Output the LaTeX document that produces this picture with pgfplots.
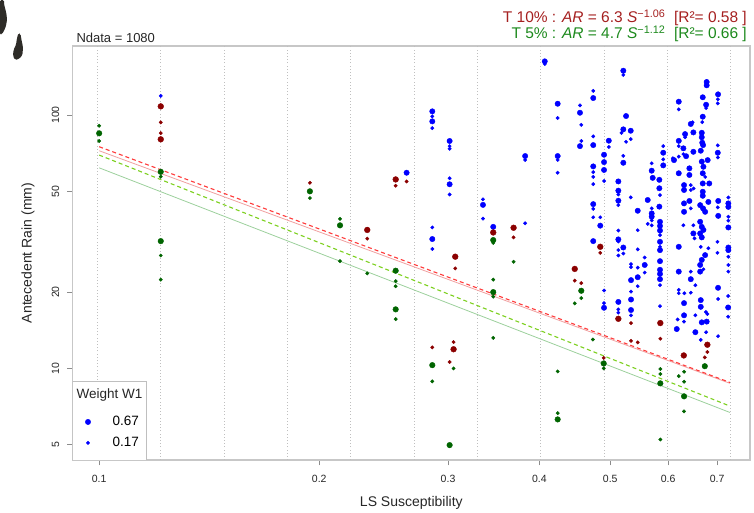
\documentclass[border=0pt]{standalone}
\usepackage{fontspec}
\setmainfont{Liberation Sans}
\usepackage{pgfplots}
\pgfplotsset{compat=1.18}
\definecolor{blu}{HTML}{0000FF}
\definecolor{dred}{HTML}{8B0000}
\definecolor{dgreen}{HTML}{006400}
\definecolor{hdrred}{HTML}{A52020}
\definecolor{hdrgreen}{HTML}{1E8A1E}
\definecolor{lnred}{HTML}{FF3A3A}
\definecolor{lnpink}{HTML}{F0A0A0}
\definecolor{lnyg}{HTML}{7CD01E}
\definecolor{lnlg}{HTML}{9CD09C}
\definecolor{blob}{HTML}{2E2C28}
\begin{document}
\begin{tikzpicture}
\useasboundingbox (0pt,0pt) rectangle (754pt,513pt);
\fill[blob,rounded corners=1.5pt] (0pt,513pt) -- (4pt,513pt) -- (4pt,509pt) -- (5pt,505pt) -- (6.5pt,499pt) -- (7pt,493pt) -- (6pt,487pt) -- (4pt,482pt) -- (2pt,479pt) -- (0pt,478pt) -- cycle;
\fill[blob,rounded corners=1.5pt] (18.5pt,480pt) -- (20.5pt,479pt) -- (21.5pt,473pt) -- (23pt,466pt) -- (22.5pt,458pt) -- (19pt,454pt) -- (15pt,453pt) -- (13pt,457pt) -- (13.5pt,463pt) -- (16pt,468pt) -- (17pt,475pt) -- cycle;
\begin{axis}[
  at={(72.7pt,53pt)}, anchor=south west,
  scale only axis, width=677.3pt, height=414pt,
  xmode=log, ymode=log,
  xmin=0.0920, xmax=0.7765, ymin=4.35, ymax=187.3,
  axis line style={draw=black!22, line width=1.3pt},
  tick pos=left, tick align=outside, major tick length=5.5pt,
  every tick/.style={black!45, line width=0.6pt},
  xtick={0.1,0.2,0.3,0.4,0.5,0.6,0.7},
  xticklabels={0.1,0.2,0.3,0.4,0.5,0.6,0.7},
  ytick={5,10,20,50,100},
  yticklabels={5,10,20,50,100},
  minor xtick={}, minor ytick={},
  extra x ticks={0.09949,0.1214,0.1483,0.1810,0.2209,0.2697,0.3292,0.4018,0.4905,0.5988,0.7308},
  extra x tick labels={},
  extra x tick style={grid=major, major tick length=0pt},
  major grid style={black!25, line width=0.7pt, dash pattern=on 0.8pt off 2.4pt},
  ticklabel style={font=\fontsize{10.5}{12}\selectfont, text=black!85},
  xticklabel shift=6pt,
  yticklabel style={rotate=90, anchor=south},
  yticklabel shift=4.5pt,
  xlabel={LS Susceptibility},
  ylabel={Antecedent Rain (mm)},
  label style={font=\fontsize{14}{16}\selectfont, text=black!85},
  x label style={at={(axis description cs:0.5,-0.104)}, anchor=center},
  y label style={at={(axis description cs:-0.066,0.5)}, anchor=center},
  legend style={at={(0.0139,0.018)}, anchor=south west, draw=none, fill=none,
    font=\fontsize{13.5}{15}\selectfont, row sep=6pt},
  legend cell align=left,
]
\addlegendimage{only marks, mark=*, mark size=2.7pt, color=blu}
\addlegendentry{\hspace{20pt}0.67}
\addlegendimage{only marks, mark=*, mark size=1.7pt, color=blu}
\addlegendentry{\hspace{20pt}0.17}

% blue large
\addplot[forget plot, only marks, mark=*, mark size=2.7pt, color=blu] coordinates {
(0.2633,59.2) (0.2855,103.4) (0.2855,94.4) (0.2855,32.4) (0.3015,79.0) (0.3015,53.3)
(0.3349,44.2) (0.3459,36.2) (0.3825,68.9) (0.4068,162.9) (0.4237,110.8) (0.4237,68.9)
(0.4545,102.1) (0.4545,75.4) (0.4739,116.7) (0.4739,76.1) (0.4739,62.7) (0.4739,44.5)
(0.4739,31.8) (0.4845,36.6) (0.4903,69.7) (0.4903,65.2) (0.4903,60.7) (0.4903,17.35)
(0.4977,79.2) (0.5129,54.7) (0.5129,50.3) (0.5129,45.9) (0.5129,32.3) (0.5129,18.3)
(0.5210,149.6) (0.5255,99.1) (0.5210,87.8) (0.5333,86.7) (0.5210,64.8) (0.5338,18.7)
(0.5338,17.0) (0.5338,22.3) (0.5452,41.9) (0.5452,22.9) (0.5573,25.6) (0.5626,46.2)
(0.5697,60.3) (0.5715,56.5) (0.5697,40.9) (0.5697,39.7) (0.5836,55.5) (0.5836,51.4)
(0.5836,43.5) (0.5848,37.9) (0.5848,36.5) (0.5848,31.6) (0.5848,35.0) (0.5848,26.5)
(0.5848,24.5) (0.5848,23.6) (0.5848,22.5) (0.5848,29.3) (0.5908,71.0) (0.5908,63.3)
(0.6112,66.4) (0.6204,112.9) (0.6204,79.1) (0.6204,58.9) (0.6204,30.2) (0.6204,24.1)
(0.6295,73.9) (0.6329,84.1) (0.6349,68.8) (0.6308,52.9) (0.6308,50.6) (0.6308,41.5)
(0.6308,44.8) (0.6308,18.1) (0.6308,16.2) (0.6165,14.3) (0.6443,92.2) (0.6496,85.4)
(0.6496,71.6) (0.6415,61.6) (0.6415,58.0) (0.6415,45.8) (0.6496,34.1) (0.6443,22.5)
(0.6537,13.9) (0.6649,72.3) (0.6691,117.5) (0.6691,98.5) (0.6670,85.1) (0.6670,81.7)
(0.6680,77.8) (0.6698,76.1) (0.6670,65.5) (0.6705,62.5) (0.6691,58.9) (0.6691,53.7)
(0.6691,49.8) (0.6691,48.0) (0.6636,44.1) (0.6698,42.8) (0.6741,41.5) (0.6810,45.4)
(0.6830,53.7) (0.6636,37.9) (0.6670,36.2) (0.6705,35.2) (0.6636,34.1) (0.6670,32.9)
(0.6741,28.0) (0.6670,26.8) (0.6636,25.6) (0.6636,24.1) (0.6774,135.0) (0.6774,131.0)
(0.6762,109.8) (0.6796,66.4) (0.6649,18.6) (0.6649,17.5) (0.6670,15.2) (0.6774,15.3)
(0.7022,120.7) (0.7015,71.0) (0.7025,45.8) (0.7025,40.0) (0.7022,20.8) (0.7253,44.8)
(0.7253,43.4) (0.7253,36.0) (0.7253,30.0) (0.7253,29.3) (0.7248,17.4) (0.5210,30.0)
};
% blue small
\addplot[forget plot, only marks, mark=*, mark size=1.7pt, color=blu] coordinates {
(0.1214,119) (0.2855,98.8) (0.2855,88.8) (0.2855,36.0) (0.2855,29.6) (0.3015,75.4)
(0.3015,73.6) (0.3015,56.3) (0.3015,48.6) (0.3349,46.5) (0.3349,39.0) (0.3825,37.4)
(0.3825,66.5) (0.4068,159) (0.4237,97.3) (0.4237,59.2) (0.4237,66.5) (0.4545,109.2)
(0.4564,91.5) (0.4564,79.0) (0.4739,124.5) (0.4739,82.4) (0.4739,59.5) (0.4739,57.0)
(0.4739,53.4) (0.4739,42.6) (0.4739,39.5) (0.4845,39.5) (0.4903,54.9) (0.4903,20.3)
(0.4903,18.1) (0.4977,74.8) (0.5129,48.6) (0.5129,44.1) (0.5129,35.0) (0.5129,31.7)
(0.5129,29.3) (0.5129,27.9) (0.5129,17.1) (0.5129,16.6) (0.5210,144) (0.5210,28.4)
(0.5180,85.0) (0.5255,78.4) (0.5333,80.3) (0.5210,69.0) (0.5333,47.3) (0.5452,35.1)
(0.5338,25.8) (0.5338,25.1) (0.5452,25.0) (0.5452,29.5) (0.5452,21.1) (0.5338,20.1)
(0.5338,16.2) (0.5573,27.4) (0.5573,23.9) (0.5626,37.2) (0.5697,64.5) (0.5697,42.8)
(0.5697,38.4) (0.5697,36.7) (0.5848,48.3) (0.5848,30.2) (0.5848,35.2) (0.5848,33.6)
(0.5848,21.3) (0.5848,17.6) (0.5908,75.4) (0.5908,66.8) (0.6090,67.5) (0.6204,105.3)
(0.6204,75.4) (0.6204,68.5) (0.6295,44.6) (0.6295,36.7) (0.6443,52.9) (0.6443,50.6)
(0.6500,51.3) (0.6443,42.8) (0.6496,36.7) (0.6520,32.6) (0.6443,24.1) (0.6329,81.7)
(0.6295,70.1) (0.6480,93.6) (0.6680,93.8) (0.6762,106.5) (0.6741,57.0) (0.6810,29.8)
(0.6649,30.2) (0.6705,24.6) (0.7015,115.4) (0.7015,111.2) (0.7015,75.9) (0.7015,68.0)
(0.7015,43.2) (0.7008,31.6) (0.7008,28.6) (0.7022,18.8) (0.7022,13.4) (0.7253,47.3)
(0.7253,39.7) (0.7253,38.3) (0.7253,27.6) (0.7253,25.6) (0.7253,24.1) (0.7248,19.3)
(0.7248,16.0) (0.6537,21.3) (0.6537,16.2) (0.6443,19.9) (0.6316,19.8) (0.6204,20.4)
(0.6204,19.8) (0.6183,15.6) (0.6308,15.3) (0.6762,13.9) (0.6757,16.7) (0.6790,16.4)
(0.6649,12.95) (0.6774,136)
};
% dark red large
\addplot[forget plot, only marks, mark=*, mark size=2.9pt, color=dred] coordinates {
(0.1214,108.2) (0.1214,80.2) (0.2326,35.2) (0.2544,55.7) (0.3069,27.6) (0.3053,11.9)
(0.3459,34.4) (0.3688,35.9) (0.4471,24.7) (0.4845,30.2) (0.5129,15.7) (0.5854,15.1)
(0.6303,11.25) (0.6789,12.4)
};
% dark red small
\addplot[forget plot, only marks, mark=*, mark size=1.7pt, color=dred] coordinates {
(0.1214,93.6) (0.1214,84.9) (0.1942,54.0) (0.2326,32.5) (0.2544,52.6) (0.2633,54.7)
(0.2855,12.1) (0.3069,24.8) (0.3053,12.7) (0.3015,10.6) (0.3688,32.9) (0.4471,22.2)
(0.4564,21.7) (0.4845,28.6) (0.4898,11.0) (0.5338,15.1) (0.5338,12.85) (0.5452,12.66)
(0.5854,13.1) (0.6789,11.6) (0.6734,11.05)
};
% dark green large
\addplot[forget plot, only marks, mark=*, mark size=2.8pt, color=dgreen] coordinates {
(0.1,84.7) (0.1214,59.7) (0.1214,31.8) (0.1942,50.0) (0.2135,36.7) (0.2544,24.3)
(0.2544,17.1) (0.2855,10.3) (0.3015,4.98) (0.3459,32.1) (0.3459,20.0) (0.4564,20.25)
(0.4237,6.29) (0.4898,10.46) (0.5854,8.73) (0.6308,7.76) (0.6734,10.2)
};
% dark green small
\addplot[forget plot, only marks, mark=*, mark size=1.7pt, color=dgreen] coordinates {
(0.1,90.7) (0.1,79.0) (0.1214,57.1) (0.1214,27.9) (0.1214,22.4) (0.1942,47.0)
(0.2135,38.9) (0.2135,26.5) (0.2326,23.7) (0.2544,22.1) (0.2544,21.1) (0.2544,15.65)
(0.2855,8.89) (0.3053,10.0) (0.3459,31.3) (0.3459,22.4) (0.3459,19.2) (0.3459,13.2)
(0.3688,26.35) (0.4564,18.95) (0.4471,18.06) (0.4237,9.73) (0.4237,6.66) (0.4734,13.0)
(0.4898,10.0) (0.5854,9.94) (0.5854,9.5) (0.5854,5.24) (0.6204,9.32) (0.6308,9.70)
(0.6308,8.86) (0.6308,6.77)
};
% regression lines
\addplot[forget plot, lnpink, line width=0.8pt] coordinates {(0.1,72.3) (0.7289,8.73)};
\addplot[forget plot, lnlg, line width=0.8pt] coordinates {(0.1,61.9) (0.7289,6.70)};
\addplot[forget plot, lnred, line width=1.1pt, dash pattern=on 4pt off 3pt] coordinates {(0.1,75.0) (0.7289,8.8)};
\addplot[forget plot, lnyg, line width=1.1pt, dash pattern=on 4pt off 3pt] coordinates {(0.1,69.5) (0.7289,7.1)};
% legend frame
\draw[black!25, line width=0.8pt, fill=white] (rel axis cs:0,0) rectangle (rel axis cs:0.109,0.189);
\node[font=\fontsize{13.5}{15}\selectfont, text=black!85] at (rel axis cs:0.0545,0.157) {Weight W1};
\end{axis}
\node[anchor=base west, font=\fontsize{13}{15}\selectfont, text=black!85] at (73pt,470pt) {Ndata = 1080};
\node[anchor=base east, font=\fontsize{15.5}{17}\selectfont, text=hdrred, inner sep=0pt] at (747pt,490pt) {T 10\% : \textit{AR} = 6.3 \textit{S}\textsuperscript{−1.06}\ \ [R²= 0.58 ]};
\node[anchor=base east, font=\fontsize{15.5}{17}\selectfont, text=hdrgreen, inner sep=0pt] at (747pt,474pt) {T 5\% : \textit{AR} = 4.7 \textit{S}\textsuperscript{−1.12}\ \ [R²= 0.66 ]};
\end{tikzpicture}
\end{document}
